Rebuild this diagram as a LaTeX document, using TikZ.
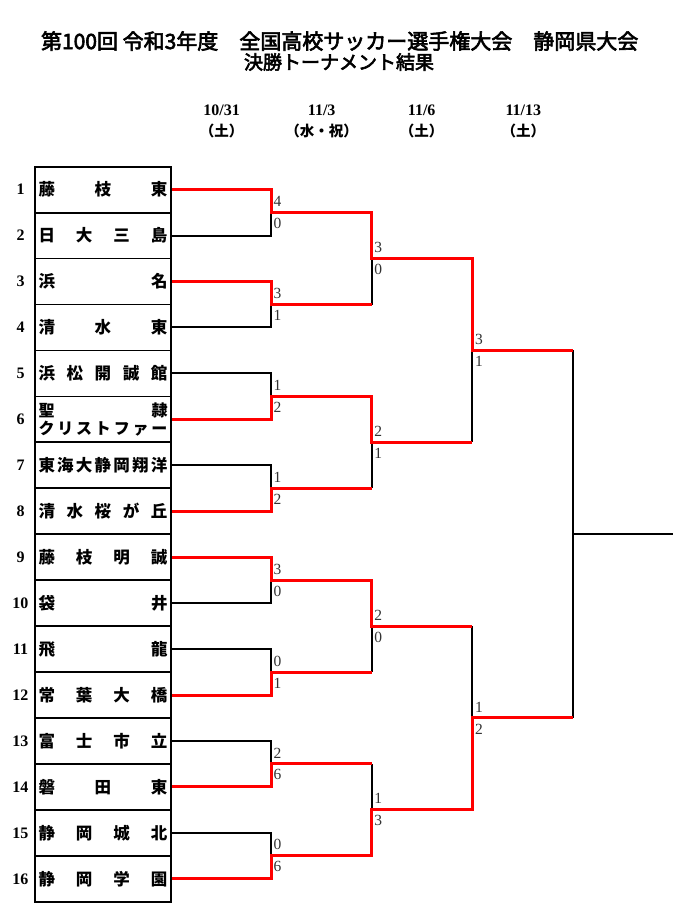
\documentclass[tikz,border=0pt]{standalone}
\usepackage{fontspec}
\setmainfont{Liberation Serif}
\newfontfamily\jp{Noto Sans CJK JP}
\newfontfamily\jpt[FakeBold=3]{Noto Sans CJK JP}
\definecolor{winred}{HTML}{FF0000}
\definecolor{scoregray}{HTML}{333333}
\tikzset{
  teambox/.style={draw, line width=1.8pt, minimum width=136pt, minimum height=45.94pt, inner sep=0pt,
    font={\jp\bfseries\fontsize{16.5}{18}\selectfont}},
  seatnum/.style={font={\bfseries\fontsize{16}{16}\selectfont}, inner sep=0pt},
  score/.style={font={\fontsize{15.5}{15.5}\selectfont}, text=scoregray, inner sep=0pt, anchor=west},
  win/.style={draw=winred, line width=3pt},
  lose/.style={draw=black, line width=2pt},
  datetxt/.style={font={\bfseries\fontsize{16}{16}\selectfont}, inner sep=0pt},
  daytxt/.style={font={\jp\bfseries\fontsize{14.5}{15}\selectfont}, inner sep=0pt},
}
\newcommand\nm[1]{\makebox[129pt][c]{#1}}
\begin{document}
\begin{tikzpicture}[x=1pt,y=-1pt]
\useasboundingbox (0,0) rectangle (690,916);
\fill[white] (0,0) rectangle (690,916);

% titles
\node[font={\jpt\fontsize{21}{22}\selectfont}, inner sep=0pt] (title) at (339.7,41) {第100回 令和3年度\hspace{1em}全国高校サッカー選手権大会\hspace{1em}静岡県大会};
\node[font={\jpt\fontsize{19}{20}\selectfont}, inner sep=0pt] (subtitle) at (339,62) {決勝トーナメント結果};

% dates
\node[datetxt] (d1) at (221.7,110) {10/31};
\node[datetxt] (d2) at (321.7,110) {11/3};
\node[datetxt] (d3) at (421.7,110) {11/6};
\node[datetxt] (d4) at (523.3,110) {11/13};
\node[daytxt] (w1) at (221.7,131) {（土）};
\node[daytxt] (w2) at (321.7,131) {（水・祝）};
\node[daytxt] (w3) at (421.7,131) {（土）};
\node[daytxt] (w4) at (523.3,131) {（土）};

% team boxes
\node[teambox] (t1) at (103,189.67) {\nm{藤\hfill 枝\hfill 東}};
\node[teambox] (t2) at (103,235.61) {\nm{日\hfill 大\hfill 三\hfill 島}};
\node[teambox] (t3) at (103,281.55) {\nm{浜\hfill 名}};
\node[teambox] (t4) at (103,327.49) {\nm{清\hfill 水\hfill 東}};
\node[teambox] (t5) at (103,373.43) {\nm{浜\hfill 松\hfill 開\hfill 誠\hfill 館}};
\node[teambox, align=center, font={\jp\bfseries\fontsize{16}{17.5}\selectfont}] (t6) at (103,419.37) {\nm{聖\hfill 隷}\\\nm{ク\hfill リ\hfill ス\hfill ト\hfill フ\hfill ァ\hfill ー}};
\node[teambox] (t7) at (103,465.31) {\nm{東\hfill 海\hfill 大\hfill 静\hfill 岡\hfill 翔\hfill 洋}};
\node[teambox] (t8) at (103,511.25) {\nm{清\hfill 水\hfill 桜\hfill が\hfill 丘}};
\node[teambox] (t9) at (103,557.19) {\nm{藤\hfill 枝\hfill 明\hfill 誠}};
\node[teambox] (t10) at (103,603.13) {\nm{袋\hfill 井}};
\node[teambox] (t11) at (103,649.07) {\nm{飛\hfill 龍}};
\node[teambox] (t12) at (103,695.01) {\nm{常\hfill 葉\hfill 大\hfill 橋}};
\node[teambox] (t13) at (103,740.95) {\nm{富\hfill 士\hfill 市\hfill 立}};
\node[teambox] (t14) at (103,786.89) {\nm{磐\hfill 田\hfill 東}};
\node[teambox] (t15) at (103,832.83) {\nm{静\hfill 岡\hfill 城\hfill 北}};
\node[teambox] (t16) at (103,878.77) {\nm{静\hfill 岡\hfill 学\hfill 園}};

% seat numbers
\foreach \i/\yy in {1/189.67,2/235.61,3/281.55,4/327.49,5/373.43,6/419.37,7/465.31,8/511.25,9/557.19,10/603.13,11/649.07,12/695.01,13/740.95,14/786.89,15/832.83,16/878.77}
  \node[seatnum] (n\i) at (20.5,\yy) {\i};

% junctions
\coordinate (a1) at (271,212.64);
\coordinate (a2) at (271,304.52);
\coordinate (a3) at (271,396.40);
\coordinate (a4) at (271,488.28);
\coordinate (a5) at (271,580.16);
\coordinate (a6) at (271,672.04);
\coordinate (a7) at (271,763.92);
\coordinate (a8) at (271,855.80);
\coordinate (b1) at (371.7,258.58);
\coordinate (b2) at (371.7,442.34);
\coordinate (b3) at (371.7,626.10);
\coordinate (b4) at (371.7,809.86);
\coordinate (c1) at (472.3,350.46);
\coordinate (c2) at (472.3,717.98);
\coordinate (f) at (573.3,534.22);
\coordinate (fe) at (673.3,534.22);

% losing lines (black)
\draw[lose] (t2.east) -| (a1);
\draw[lose] (t4.east) -| (a2);
\draw[lose] (t5.east) -| (a3);
\draw[lose] (t7.east) -| (a4);
\draw[lose] (t10.east) -| (a5);
\draw[lose] (t11.east) -| (a6);
\draw[lose] (t13.east) -| (a7);
\draw[lose] (t15.east) -| (a8);
\draw[lose] (a2 -| b1) -- (b1);
\draw[lose] (a4 -| b2) -- (b2);
\draw[lose] (a6 -| b3) -- (b3);
\draw[lose] (a7 -| b4) -- (b4);
\draw[lose] (b2 -| c1) -- (c1);
\draw[lose] (b3 -| c2) -- (c2);
\draw[lose] (c1 -| f) -- (c2 -| f);
\draw[lose] (f) -- (fe);

% winning lines (red)
\draw[win] (t1.east) -| (a1) -| (b1) -| (c1) -- (c1 -| f);
\draw[win] (t3.east) -| (a2) -- (a2 -| b1);
\draw[win] (t6.east) -| (a3) -| (b2) -- (b2 -| c1);
\draw[win] (t8.east) -| (a4) -- (a4 -| b2);
\draw[win] (t9.east) -| (a5) -| (b3) -- (b3 -| c2);
\draw[win] (t12.east) -| (a6) -- (a6 -| b3);
\draw[win] (t14.east) -| (a7) -- (a7 -| b4);
\draw[win] (t16.east) -| (a8) -| (b4) -| (c2) -- (c2 -| f);

% scores
\foreach \j/\top/\bot in {a1/4/0,a2/3/1,a3/1/2,a4/1/2,a5/3/0,a6/0/1,a7/2/6,a8/0/6,b1/3/0,b2/2/1,b3/2/0,b4/1/3,c1/3/1,c2/1/2}{
  \node[score] (s\j t) at ([shift={(2.5,-11)}]\j) {\top};
  \node[score] (s\j b) at ([shift={(2.5,11)}]\j) {\bot};
}
\end{tikzpicture}
\end{document}
